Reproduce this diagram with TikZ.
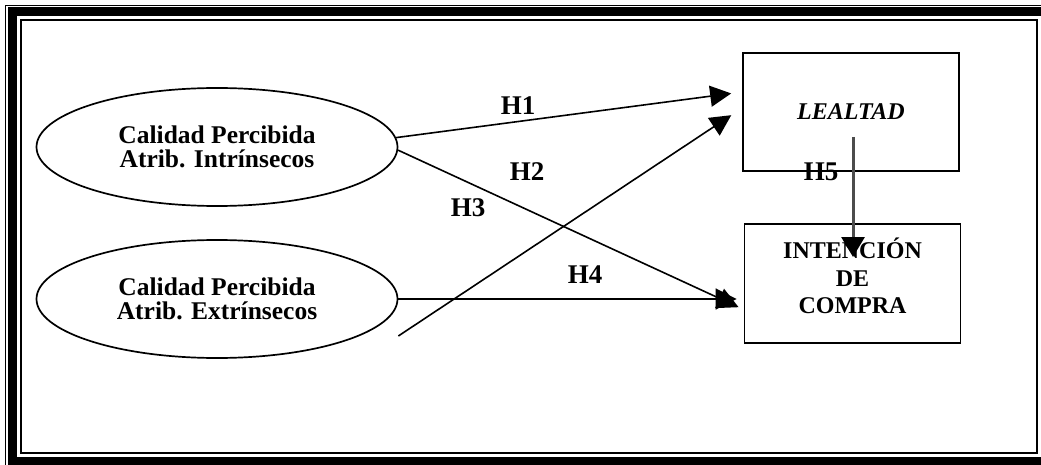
\documentclass[tikz,border=0pt]{standalone}
\usepackage{fontspec}
\setmainfont{Liberation Serif}
\usepackage{tikz}
\usetikzlibrary{shapes.geometric, arrows.meta, positioning}

\begin{document}
\begin{tikzpicture}[
            x=1pt, y=-1pt,
            latent/.style={ellipse, draw, line width=1.7pt, minimum width=361pt, minimum height=118pt, inner sep=0pt, align=center, font=\fontsize{25.5}{24.5}\selectfont\bfseries},
            construct/.style={rectangle, draw, line width=1.8pt, minimum width=216pt, minimum height=118pt, inner sep=0pt, align=center},
            hyparrow/.style={-{Triangle[length=21pt, width=21pt]}, line width=1.6pt},
            hlabel/.style={font=\fontsize{27}{27}\selectfont\bfseries, inner sep=0pt}
        ]
            \useasboundingbox (0,0) rectangle (1041,465);
            \clip (0,0) rectangle (1041,465);
            \draw[line width=1.5pt] (5.5,5.5) rectangle (1070,480);
            \draw[line width=9pt] (12.5,12) rectangle (1055,461);
            \draw[line width=2pt] (20.5,20) rectangle (1036.5,452.5);

            \node[latent] (intr) at (217,147) {Calidad Percibida\\Atrib. Intrínsecos};
            \node[latent] (extr) at (217,299) {Calidad Percibida\\Atrib. Extrínsecos};
            \node[construct, font=\fontsize{24}{24}\selectfont\bfseries\itshape] (leal) at (851,112) {LEALTAD};
            \node[construct, minimum height=119pt, text depth=15pt, font=\fontsize{24}{27.5}\selectfont\bfseries] (compra) at (852.5,283.5) {INTENCIÓN\\DE\\COMPRA};
            \coordinate (h3start) at ([yshift=-37pt]extr.east);

            \draw[hyparrow, shorten >=11pt] (intr.3) -- ([yshift=20pt]leal.west);
            \draw[hyparrow, shorten >=5.5pt] (intr.-1) -- ([yshift=-26pt]compra.west);
            \draw[hyparrow, shorten >=13pt] (h3start) -- ([yshift=4pt]leal.west);
            \draw[hyparrow, shorten >=7pt] (extr.east) -- (extr.east -| compra.west);
            \draw[-{Triangle[length=20pt, width=23pt, color=black]}, line width=3pt, draw=black!70] ([xshift=2pt, yshift=-25pt]leal.center) -- ([xshift=0.5pt, yshift=26.5pt]compra.center);

            \node[hlabel] (h1) at (518,106) {H1};
            \node[hlabel] (h2) at (527,172) {H2};
            \node[hlabel] (h3) at (468,208) {H3};
            \node[hlabel] (h4) at (585,275) {H4};
            \node[hlabel] (h5) at (821,172) {H5};
        \end{tikzpicture}
\end{document}
